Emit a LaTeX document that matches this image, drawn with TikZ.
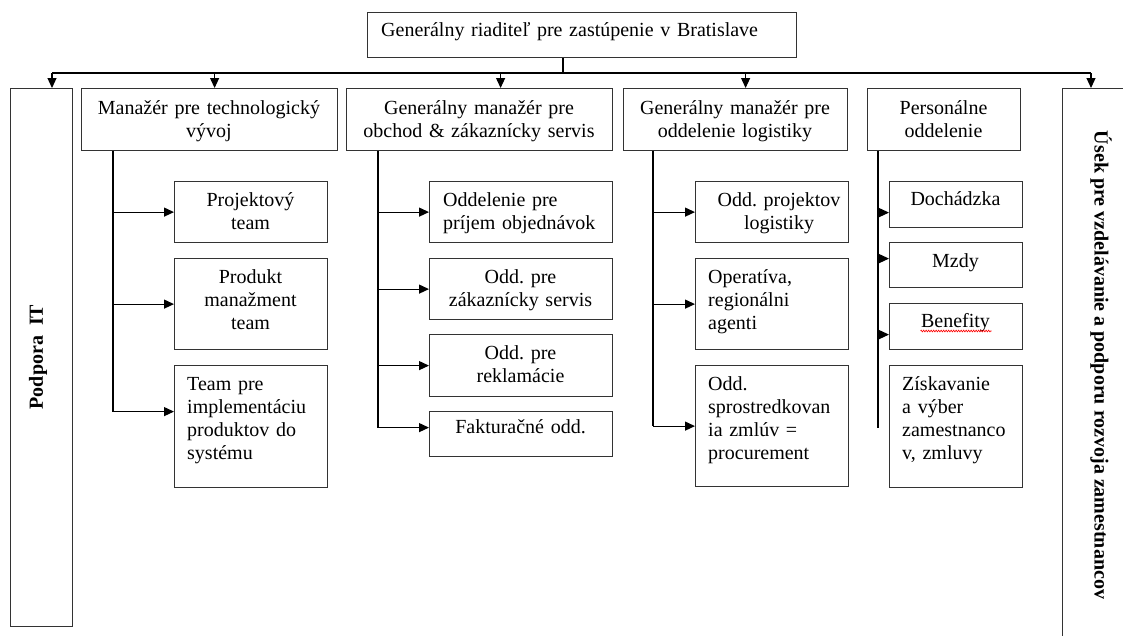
\documentclass[tikz,border=0pt]{standalone}
\usepackage{fontspec}
\setmainfont{Liberation Serif}
\usetikzlibrary{arrows.meta,decorations.pathmorphing}
\frenchspacing
\tikzset{
  box/.style={draw=black!80, line width=1.2pt, anchor=north west, inner sep=0pt},
  txt/.style={inner sep=0pt, font=\fontsize{20}{23}\selectfont\frenchspacing},
  ltxt/.style={txt, anchor=base west, align=left, text width=220pt},
  ctxt/.style={txt, anchor=base, align=center, text width=300pt},
  vtxt/.style={inner sep=0pt, font=\fontsize{20}{23}\selectfont\bfseries},
  conn/.style={line width=1.2pt, black},
  arr/.style={conn, -{Triangle[length=10pt,width=9pt]}},
}
\begin{document}
\begin{tikzpicture}[x=1pt,y=-1pt]
\useasboundingbox (0,0) rectangle (1123,635);
\clip (0,0) rectangle (1123,635);
\fill[white] (0,0) rectangle (1123,635);

% top
\node[box, minimum width=429pt, minimum height=45pt] (ceo) at (367,12) {};
\node[ltxt, text width=500pt] (ceot) at (381,36) {Generálny riaditeľ pre zastúpenie v Bratislave};

% side boxes
\node[box, minimum width=62pt, minimum height=538pt] (pod) at (10,88) {};
\node[vtxt, rotate=90] (podt) at (38,357) {Podpora\ \ IT};
\node[box, minimum width=100pt, minimum height=600pt] (usek) at (1062,88) {};
\node[vtxt, rotate=-90] (usekt) at (1101,365) {Úsek pre vzdelávanie a podporu rozvoja zamestnancov};

% managers
\node[box, minimum width=256pt, minimum height=62pt] (m1) at (81,88) {};
\node[ctxt] (m1t) at (209,114) {Manažér pre technologický\\vývoj};
\node[box, minimum width=266pt, minimum height=62pt] (m2) at (346,88) {};
\node[ctxt] (m2t) at (479,114) {Generálny manažér pre\\obchod \& zákaznícky servis};
\node[box, minimum width=224pt, minimum height=62pt] (m3) at (623,88) {};
\node[ctxt] (m3t) at (735,114) {Generálny manažér pre\\oddelenie logistiky};
\node[box, minimum width=153pt, minimum height=62pt] (m4) at (867,88) {};
\node[ctxt] (m4t) at (943.5,114) {Personálne\\oddelenie};

% column 1
\node[box, minimum width=153pt, minimum height=61pt] (b11) at (174,181) {};
\node[ctxt] at (250.5,206) {Projektový\\team};
\node[box, minimum width=153pt, minimum height=91pt] (b12) at (174,258) {};
\node[ctxt] at (250.5,283) {Produkt\\manažment\\team};
\node[box, minimum width=153pt, minimum height=122pt] (b13) at (174,365) {};
\node[ltxt] at (187,390) {Team pre\\implementáciu\\produktov do\\systému};

% column 2
\node[box, minimum width=183pt, minimum height=61pt] (b21) at (429,181) {};
\node[ltxt] at (443,206) {Oddelenie pre\\príjem objednávok};
\node[box, minimum width=183pt, minimum height=61pt] (b22) at (429,258) {};
\node[ctxt] at (520.5,283) {Odd. pre\\zákaznícky servis};
\node[box, minimum width=183pt, minimum height=62pt] (b23) at (429,334) {};
\node[ctxt] at (520.5,359) {Odd. pre\\reklamácie};
\node[box, minimum width=183pt, minimum height=45pt] (b24) at (429,411) {};
\node[ctxt] at (520.5,433) {Fakturačné odd.};

% column 3
\node[box, minimum width=153pt, minimum height=61pt] (b31) at (695,181) {};
\node[ctxt] at (779,206) {Odd. projektov\\logistiky};
\node[box, minimum width=153pt, minimum height=91pt] (b32) at (695,258) {};
\node[ltxt] at (708,283) {Operatíva,\\regionálni\\agenti};
\node[box, minimum width=153pt, minimum height=121pt] (b33) at (695,365) {};
\node[ltxt] at (708,390) {Odd.\\sprostredkovan\\ia zmlúv =\\procurement};

% column 4
\node[box, minimum width=133pt, minimum height=46pt] (b41) at (889,181) {};
\node[ctxt] at (955.5,205) {Dochádzka};
\node[box, minimum width=133pt, minimum height=45pt] (b42) at (889,242) {};
\node[ctxt] at (955.5,267) {Mzdy};
\node[box, minimum width=133pt, minimum height=46pt] (b43) at (889,303) {};
\node[ctxt] (bent) at (955.5,327) {Benefity};
\node[box, minimum width=133pt, minimum height=122pt] (b44) at (889,365) {};
\node[ltxt] at (902,390) {Získavanie\\a výber\\zamestnanco\\v, zmluvy};
\draw[red, line width=0.6pt, decorate, decoration={zigzag, segment length=2.5pt, amplitude=0.9pt}]
  ([xshift=-35pt,yshift=-4pt]bent.base) -- ([xshift=36pt,yshift=-4pt]bent.base);

% top connectors
\coordinate (bus) at (563,73);
\coordinate (busL) at (52,73);
\coordinate (busR) at (1091,73);
\draw[conn] (ceo.south -| bus) -- (bus);
\draw[conn] (busL) -- (busR);
\draw[arr] (busL) -- (busL |- pod.north);
\draw[arr] ([xshift=5pt]m1.north |- bus) -- ([xshift=5pt]m1.north);
\draw[arr] ([xshift=21pt]m2.north |- bus) -- ([xshift=21pt]m2.north);
\draw[arr] ([xshift=10pt]m3.north |- bus) -- ([xshift=10pt]m3.north);
\draw[arr] (busR) -- (busR |- usek.north);

% trunks
\coordinate (t1) at ([xshift=32pt]m1.south west);
\coordinate (t2) at ([xshift=32pt]m2.south west);
\coordinate (t3) at ([xshift=30pt]m3.south west);
\coordinate (t4) at ([xshift=11pt]m4.south west);
\coordinate (e13) at ([yshift=15pt]b13.west);
\coordinate (e24) at ([yshift=6.5pt]b24.west);
\coordinate (e41) at ([yshift=-8pt]b41.west);
\coordinate (e42) at ([yshift=6.5pt]b42.west);
\coordinate (e43) at ([yshift=-8pt]b43.west);

\draw[conn] (t1) -- (t1 |- e13);
\draw[arr] (t1 |- b11.west) -- (b11.west);
\draw[arr] (t1 |- b12.west) -- (b12.west);
\draw[arr] (t1 |- e13) -- (e13);

\draw[conn] (t2) -- (t2 |- e24);
\draw[arr] (t2 |- b21.west) -- (b21.west);
\draw[arr] (t2 |- b22.west) -- (b22.west);
\draw[arr] (t2 |- b23.west) -- (b23.west);
\draw[arr] (t2 |- e24) -- (e24);

\draw[conn] (t3) -- (t3 |- b33.west);
\draw[arr] (t3 |- b31.west) -- (b31.west);
\draw[arr] (t3 |- b32.west) -- (b32.west);
\draw[arr] (t3 |- b33.west) -- (b33.west);

\draw[conn] (t4) -- ++(0,277);
\draw[arr] (t4 |- e41) -- (e41);
\draw[arr] (t4 |- e42) -- (e42);
\draw[arr] (t4 |- e43) -- (e43);
\end{tikzpicture}
\end{document}
